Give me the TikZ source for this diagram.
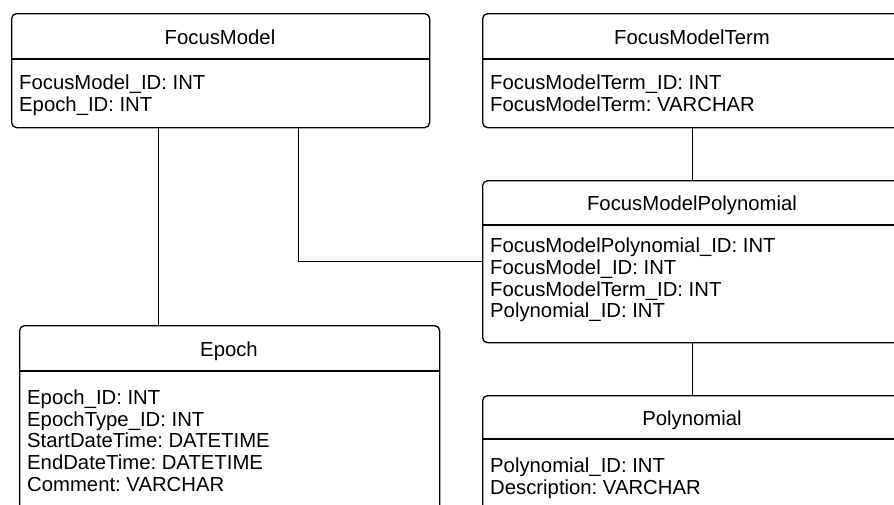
\documentclass[tikz,border=0pt]{standalone}
\usepackage{fontspec}
\setmainfont{Liberation Sans}
\usetikzlibrary{calc}
\frenchspacing
\begin{document}
\begin{tikzpicture}[x=1pt,y=-1pt,
  entity/.style={draw, line width=1.3pt, rounded corners=5pt, inner sep=0pt, anchor=north west},
  hdr/.style={line width=1.3pt},
  conn/.style={line width=1.3pt},
  title/.style={font=\fontsize{20.3}{21.7}\selectfont\frenchspacing, inner sep=0pt, anchor=base},
  attr/.style={font=\fontsize{20.3}{21.7}\selectfont\frenchspacing, inner sep=0pt, anchor=base west}]
\useasboundingbox (0,0) rectangle (894,504);
\clip (0,0) rectangle (894,504);
\fill[white] (0,0) rectangle (894,504);

% FocusModel
\node[entity, minimum width=418pt, minimum height=114pt] (fm) at (11,13) {};
\draw[hdr] ($(fm.north west)+(0,46)$) -- ($(fm.north east)+(0,46)$);
\node[title] (fmt0) at (220,44.3) {FocusModel};
\node[attr] (fm1) at (19,89.3) {FocusModel\_ID: INT};
\node[attr] (fm2) at (19,111) {Epoch\_ID: INT};

% FocusModelTerm
\node[entity, minimum width=420pt, minimum height=114pt] (fmt) at (482,13) {};
\draw[hdr] ($(fmt.north west)+(0,46)$) -- ($(fmt.north east)+(0,46)$);
\node[title] (fmtt) at (692,44.3) {FocusModelTerm};
\node[attr] (fmt1) at (490,89.3) {FocusModelTerm\_ID: INT};
\node[attr] (fmt2) at (490,111) {FocusModelTerm: VARCHAR};

% FocusModelPolynomial
\node[entity, minimum width=420pt, minimum height=162pt] (fmp) at (482,180) {};
\draw[hdr] ($(fmp.north west)+(0,45)$) -- ($(fmp.north east)+(0,45)$);
\node[title] (fmpt) at (692,210.7) {FocusModelPolynomial};
\node[attr] (fmp1) at (490,252.6) {FocusModelPolynomial\_ID: INT};
\node[attr] (fmp2) at (490,274.3) {FocusModel\_ID: INT};
\node[attr] (fmp3) at (490,296) {FocusModelTerm\_ID: INT};
\node[attr] (fmp4) at (490,317.7) {Polynomial\_ID: INT};

% Polynomial
\node[entity, minimum width=420pt, minimum height=130pt] (poly) at (482,395) {};
\draw[hdr] ($(poly.north west)+(0,44)$) -- ($(poly.north east)+(0,44)$);
\node[title] (polyt) at (692,425.7) {Polynomial};
\node[attr] (poly1) at (490,472.3) {Polynomial\_ID: INT};
\node[attr] (poly2) at (490,494) {Description: VARCHAR};

% Epoch
\node[entity, minimum width=420pt, minimum height=200pt] (ep) at (19,325) {};
\draw[hdr] ($(ep.north west)+(0,46)$) -- ($(ep.north east)+(0,46)$);
\node[title] (ept) at (229,356.7) {Epoch};
\node[attr] (ep1) at (27,404.3) {Epoch\_ID: INT};
\node[attr] (ep2) at (27,426) {EpochType\_ID: INT};
\node[attr] (ep3) at (27,447.7) {StartDateTime: DATETIME};
\node[attr] (ep4) at (27,469.4) {EndDateTime: DATETIME};
\node[attr] (ep5) at (27,491.1) {Comment: VARCHAR};

% connectors
\draw[conn] ([xshift=-62pt]fm.south) -- ([xshift=-62pt]fm.south |- ep.north);
\draw[conn] ([xshift=78pt]fm.south) |- (fmp.west);
\draw[conn] (fmt.south) -- (fmp.north);
\draw[conn] (fmp.south) -- (poly.north);
\end{tikzpicture}
\end{document}
